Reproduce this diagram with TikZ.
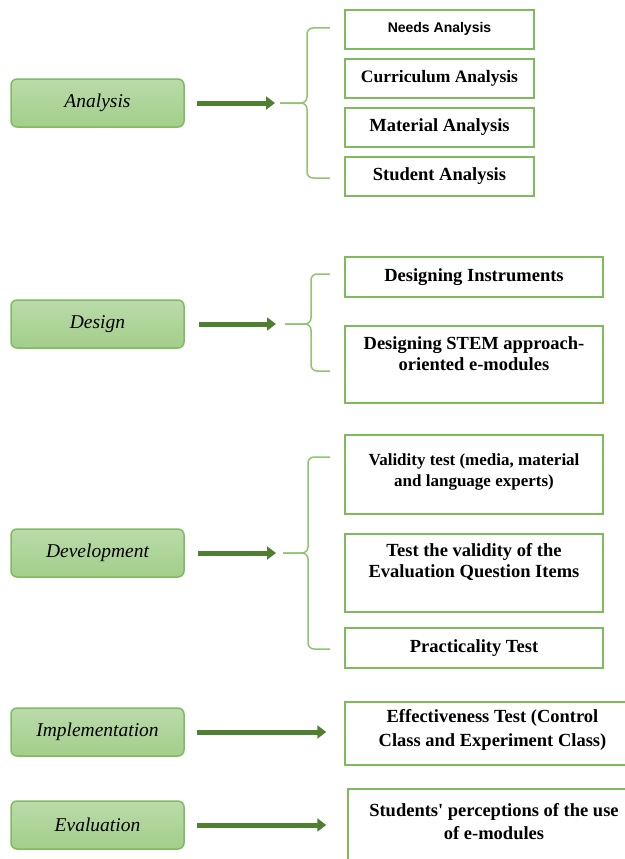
\documentclass[tikz,border=0pt]{standalone}
\usepackage{fontspec}
\setmainfont{Liberation Serif}
\newfontfamily\itemsans{Liberation Sans}
\usetikzlibrary{arrows.meta}

\definecolor{phasetop}{HTML}{BBDBAA}
\definecolor{phasebot}{HTML}{A2CE8A}
\definecolor{phaseline}{HTML}{80BA62}
\definecolor{boxline}{HTML}{7DBB5C}
\definecolor{braceline}{HTML}{8DC571}
\definecolor{arrowgreen}{HTML}{4F7F30}

\tikzset{
  phase/.style={draw=phaseline, line width=1.5pt, rounded corners=6pt,
    top color=phasetop, bottom color=phasebot,
    minimum width=173pt, minimum height=48pt,
    font=\fontsize{19.5}{22}\selectfont\itshape},
  item/.style={draw=boxline, line width=1.5pt, fill=white,
    minimum width=258pt, align=center,
    font=\fontsize{18.5}{21}\selectfont\bfseries},
  flow/.style={draw=arrowgreen, line width=5pt,
    -{Triangle[length=9pt,width=13pt]}},
  brace/.style={draw=braceline, line width=1.5pt, rounded corners=6pt},
}

\begin{document}
\begin{tikzpicture}[x=1pt,y=-1pt]
    \useasboundingbox (0,0) rectangle (624,859);

    % phases
    \node[phase] (ana) at (97.5,103) {Analysis};
    \node[phase] (des) at (97.5,324) {Design};
    \node[phase] (dev) at (97.5,553) {Development};
    \node[phase] (imp) at (97.5,732) {Implementation};
    \node[phase] (eva) at (97.5,825) {Evaluation};

    % analysis
    \node[item, minimum width=189pt, minimum height=39pt, text depth=5pt,
      font=\fontsize{14}{16}\selectfont\itemsans\bfseries] (needs) at (439.5,29.5) {Needs Analysis};
    \node[item, minimum width=189pt, minimum height=39pt,
      font=\fontsize{17.5}{21}\selectfont\bfseries] (curr) at (439.5,78.5) {Curriculum Analysis};
    \node[item, minimum width=189pt, minimum height=39pt] (mat) at (439.5,127.5) {Material Analysis};
    \node[item, minimum width=189pt, minimum height=39pt] (stud) at (439.5,176.5) {Student Analysis};

    % design
    \node[item, minimum height=40pt] (instr) at (474,277) {Designing Instruments};
    \node[item, minimum height=77pt, text depth=21pt] (stem) at (474,364.5)
      {Designing STEM approach-\\oriented e-modules};

    % development
    \node[item, minimum height=79pt, text depth=9pt,
      font=\fontsize{17}{21}\selectfont\bfseries] (valid) at (474,474.5)
      {Validity test (media, material\\and language experts)};
    \node[item, minimum height=78pt, text depth=26pt] (quest) at (474,573)
      {Test the validity of the\\Evaluation Question Items};
    \node[item, minimum height=40pt] (pract) at (474,648) {Practicality Test};

    % implementation, evaluation
    \node[item, minimum width=295pt, minimum height=63pt, text depth=11pt,
      font=\fontsize{18.5}{24}\selectfont\bfseries] (effect) at (492.5,733.5)
      {Effectiveness Test (Control\\Class and Experiment Class)};
    \node[item, minimum width=292pt, minimum height=91pt, text depth=27pt,
      font=\fontsize{18.5}{23}\selectfont\bfseries] (percep) at (494,834.5)
      {Students\textquotesingle{} perceptions of the use\\of e-modules};

    % braces
    \coordinate (anatip) at (280,103);
    \coordinate (destip) at (285,324);
    \coordinate (devtip) at (283,553);
    \draw[brace] (330,28) -- (307,28) -- (307,103) -- (anatip);
    \draw[brace] (330,178) -- (307,178) -- (307,103) -- (anatip);
    \draw[brace] (330,274) -- (311,274) -- (311,324) -- (destip);
    \draw[brace] (330,371) -- (311,371) -- (311,324) -- (destip);
    \draw[brace] (330,457) -- (308,457) -- (308,553) -- (devtip);
    \draw[brace] (330,649) -- (308,649) -- (308,553) -- (devtip);

    % arrows
    \draw[flow, shorten <=12pt, shorten >=5pt] (ana.east) -- (anatip);
    \draw[flow, shorten <=14pt, shorten >=9pt] (des.east) -- (destip);
    \draw[flow, shorten <=13pt, shorten >=7pt] (dev.east) -- (devtip);
    \draw[flow, shorten <=12pt, shorten >=18pt] (imp.east) -- (imp.east -| effect.west);
    \draw[flow, shorten <=12pt, shorten >=21pt] (eva.east) -- (eva.east -| percep.west);
\end{tikzpicture}
\end{document}
